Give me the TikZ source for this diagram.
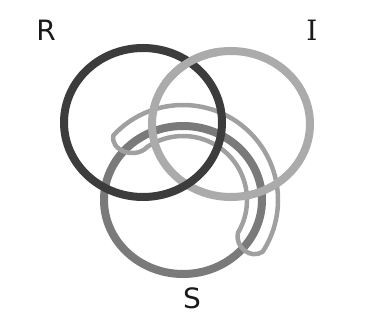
\documentclass[tikz,border=0pt]{standalone}
\usepackage{fontspec}
\setmainfont{DejaVu Sans}
\newfontfamily\serifI{DejaVu Serif}
\definecolor{rcol}{HTML}{3C3C3C}
\definecolor{icol}{HTML}{ABABAB}
\definecolor{scol}{HTML}{7A7A7A}
\definecolor{bcol}{HTML}{A0A0A0}
\begin{document}
\begin{tikzpicture}[x=1pt,y=-1pt,
  ring/.style={line width=8pt},
  band/.style={line width=4.5pt, draw=bcol, line join=round},
  lbl/.style={font=\fontsize{28}{28}\selectfont, text=black!90, inner sep=0pt}]
\fill[white] (0,0) rectangle (367,332);
\useasboundingbox (0,0) rectangle (367,332);
\coordinate (cR) at (143,122.5);
\coordinate (cI) at (231,124);
\coordinate (cS) at (183,200);
% S ring
\draw[ring, draw=scol] (cS) ellipse [x radius=79, y radius=74];
% band
\draw[band] ([shift={(-137:95)}]cS)
  arc[start angle=-137, end angle=33, radius=95]
  .. controls +(-12,8) and +(-3,14) .. ([shift={(31:64)}]cS)
  arc[start angle=31, end angle=-124, radius=64]
  .. controls +(-12,13) and +(-4,15) .. ([shift={(-137:95)}]cS) -- cycle;
% I ring
\draw[ring, draw=icol] (cI) ellipse [x radius=79, y radius=73];
% R ring
\draw[ring, draw=rcol] (cR) ellipse [x radius=79, y radius=74.5];
% I over R at top
\begin{scope}
  \clip (150,30) rectangle (220,80);
  \draw[ring, draw=icol] (cI) ellipse [x radius=79, y radius=73];
\end{scope}
\node[lbl] (r) at (46,30) {R};
\node[lbl] (i) at (312,30) {\serifI I};
\node[lbl] (s) at (192,298) {S};
\end{tikzpicture}
\end{document}
